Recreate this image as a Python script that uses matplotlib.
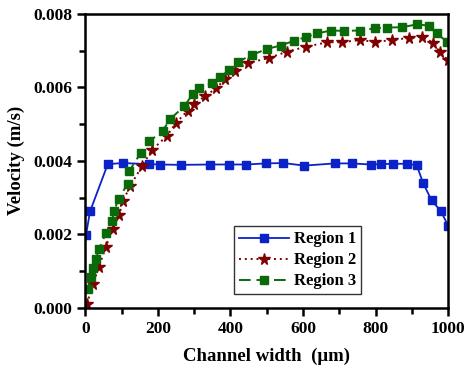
import matplotlib
matplotlib.use("Agg")
import matplotlib.pyplot as plt
from matplotlib.ticker import MultipleLocator

# Region 1
x1 = [2, 13, 62, 103, 176, 207, 264, 343, 395, 442, 498, 546, 603, 688, 734,
      786, 815, 847, 887, 913, 931, 954, 979, 1000]
y1 = [0.00198, 0.00262, 0.00391, 0.00394, 0.00391, 0.00390, 0.00389, 0.00390,
      0.00390, 0.00390, 0.00393, 0.00394, 0.00387, 0.00393, 0.00393, 0.00390,
      0.00391, 0.00392, 0.00392, 0.00388, 0.00339, 0.00292, 0.00264, 0.00223]

# Region 2
x2 = [4, 22, 37, 57, 75, 93, 104, 124, 156, 184, 224, 249, 282, 300, 330, 361,
      384, 412, 447, 505, 555, 608, 667, 706, 757, 798, 846, 892, 929, 958, 976, 998]
y2 = [0.0001, 0.00065, 0.0011, 0.00166, 0.00214, 0.00252, 0.00291, 0.00332,
      0.00385, 0.00430, 0.00467, 0.00502, 0.00537, 0.00555, 0.00576, 0.00598,
      0.00622, 0.00646, 0.00666, 0.00680, 0.00697, 0.00711, 0.00723, 0.00723,
      0.00729, 0.00724, 0.00729, 0.00735, 0.00738, 0.00722, 0.00697, 0.00675]

# Region 3
x3 = [7, 15, 22, 30, 38, 57, 74, 79, 92, 117, 121, 153, 176, 213, 233, 273, 296,
      314, 348, 371, 396, 421, 458, 501, 538, 575, 608, 639, 676, 713, 756, 798,
      831, 873, 915, 946, 968, 996]
y3 = [0.00051, 0.00084, 0.00109, 0.00133, 0.00161, 0.00203, 0.00236, 0.00263,
      0.00297, 0.00338, 0.00372, 0.00422, 0.00453, 0.00481, 0.00513, 0.00549,
      0.00582, 0.00599, 0.00611, 0.00628, 0.00647, 0.00670, 0.00688, 0.00705,
      0.00714, 0.00727, 0.00737, 0.00747, 0.00755, 0.00754, 0.00755, 0.00761,
      0.00763, 0.00764, 0.00772, 0.00768, 0.00747, 0.00725]

plt.rcParams['font.family'] = ['Liberation Serif', 'DejaVu Serif']
plt.rcParams['font.weight'] = 'bold'

fig = plt.figure(figsize=(4.65, 3.68), dpi=100)
ax = fig.add_axes([0.1834, 0.1639, 0.7806, 0.7981])

ax.plot(x1, y1, color='#0a22c8', lw=1.3, marker='s', ms=5.3, label='Region 1')
ax.plot(x2, y2, color='#7f0000', lw=1.4, ls=(0, (1, 2)), marker='*', ms=8.5,
        label='Region 2')
ax.plot(x3, y3, color='#0a6a0a', lw=1.4, ls=(0, (6, 3)), marker='s', ms=5.8,
        label='Region 3')

ax.set_xlim(0, 1000)
ax.set_ylim(0, 0.008)
ax.xaxis.set_major_locator(MultipleLocator(200))
ax.xaxis.set_minor_locator(MultipleLocator(100))
ax.yaxis.set_major_locator(MultipleLocator(0.002))
ax.yaxis.set_minor_locator(MultipleLocator(0.001))
ax.yaxis.set_major_formatter(plt.FuncFormatter(lambda v, p: f'{v:.3f}'))

for s in ax.spines.values():
    s.set_linewidth(1.8)
ax.tick_params(which='major', direction='out', length=6, width=1.8,
               labelsize=12.5, top=False, right=False)
ax.tick_params(which='minor', direction='out', length=4, width=1.8,
               top=False, right=False)

ax.set_xlabel('Channel width  (μm)', fontsize=13.5, fontweight='bold', labelpad=8)
ax.set_ylabel('Velocity (m/s)', fontsize=13.5, fontweight='bold', labelpad=6)

leg = ax.legend(loc='lower left', bbox_to_anchor=(0.41, 0.045), fontsize=12,
                frameon=True, fancybox=False, edgecolor='black',
                handlelength=3.0, borderpad=0.3, labelspacing=0.3,
                handletextpad=0.3, borderaxespad=0)
leg.get_frame().set_linewidth(1.0)

fig.savefig('out.png', dpi=100)
